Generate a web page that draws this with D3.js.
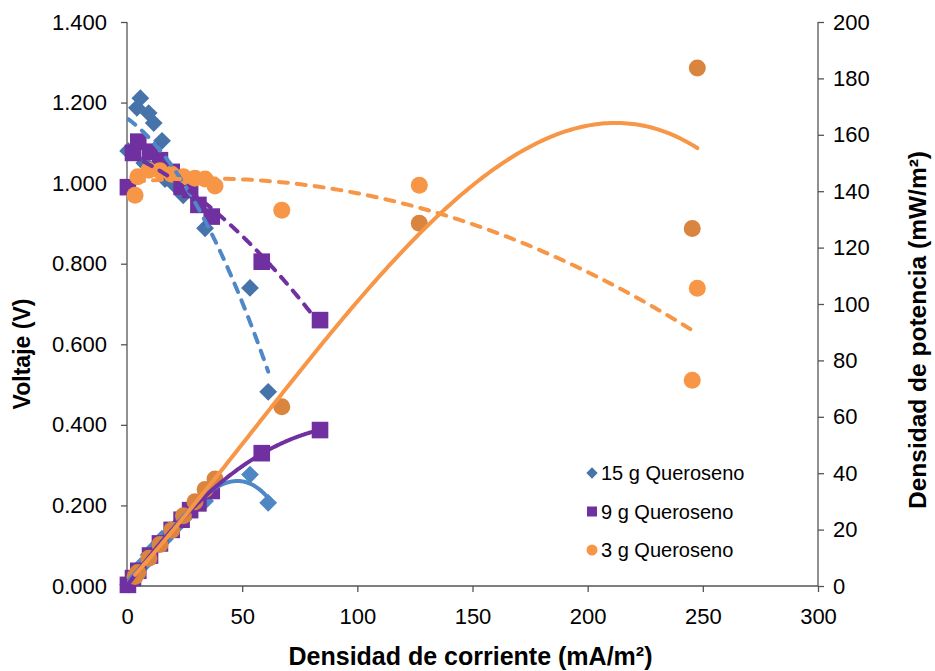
<!DOCTYPE html>
<html>
<head>
<meta charset="utf-8">
<script src="https://cdn.jsdelivr.net/npm/d3@7/dist/d3.min.js"></script>
<style>
  html, body { margin: 0; padding: 0; background: #fff; }
  svg { display: block; font-family: "Liberation Sans", Arial, sans-serif; }
</style>
</head>
<body>
<svg id="chart" width="935" height="671"></svg>
<script>
// Current density (mA/m²), voltage (V) and power density (mW/m²) for each kerosene load
const current15 = [0.5, 4.3, 5.8, 7.5, 9.4, 11.6, 15.2, 16.5, 20.8, 24.4, 33.9, 53.4, 61.3];
const voltage15 = [1.080, 1.187, 1.211, 1.050, 1.174, 1.149, 1.105, 1.010, 0.995, 0.970, 0.888, 0.740, 0.482];
const power15   = [0.5, 5.1, 7.0, 7.9, 11.0, 13.3, 16.8, 16.7, 20.7, 23.7, 30.1, 39.5, 29.5];

const current9 = [0.4, 2.6, 4.9, 10.0, 14.3, 19.4, 23.7, 27.4, 31.0, 36.8, 58.5, 83.8];
const voltage9 = [0.990, 1.075, 1.103, 1.078, 1.057, 1.028, 0.991, 0.983, 0.946, 0.917, 0.805, 0.660];
const power9   = [0.4, 2.8, 5.4, 10.8, 15.1, 19.9, 23.5, 26.9, 29.3, 33.7, 47.1, 55.3];

const current3 = [3.5, 4.7, 9.5, 14.3, 19.4, 24.5, 29.5, 33.9, 38.2, 67.2, 126.9, 245.4, 247.6];
const voltage3 = [0.970, 1.016, 1.032, 1.031, 1.022, 1.016, 1.012, 1.010, 0.993, 0.933, 0.995, 0.511, 0.739];
const power3   = [3.4, 4.8, 9.8, 14.7, 19.8, 24.9, 29.9, 34.2, 37.9, 63.6, 128.6, 126.8, 183.7];

const seriesNames = ["15 g Queroseno", "9 g Queroseno", "3 g Queroseno"];
const xTicks = [0, 50, 100, 150, 200, 250, 300];
const vTicks = [0, 0.2, 0.4, 0.6, 0.8, 1.0, 1.2, 1.4];
const pTicks = [0, 20, 40, 60, 80, 100, 120, 140, 160, 180, 200];

const svg = d3.select("#chart");
const m = { left: 127, right: 818, top: 22, bottom: 586 };

const x = d3.scaleLinear().domain([0, 300]).range([m.left, m.right]);
const yV = d3.scaleLinear().domain([0, 1.4]).range([m.bottom, m.top]);
const yP = d3.scaleLinear().domain([0, 200]).range([m.bottom, m.top]);

const axisColor = "#555";

// Least-squares polynomial trendline
function polyfit(xs, ys, order) {
  const n = order + 1;
  const A = Array.from({ length: n }, () => new Array(n + 1).fill(0));
  for (let k = 0; k < xs.length; k++) {
    for (let i = 0; i < n; i++) {
      for (let j = 0; j < n; j++) A[i][j] += Math.pow(xs[k], i + j);
      A[i][n] += ys[k] * Math.pow(xs[k], i);
    }
  }
  for (let c = 0; c < n; c++) {
    let p = c;
    for (let r = c + 1; r < n; r++) if (Math.abs(A[r][c]) > Math.abs(A[p][c])) p = r;
    [A[c], A[p]] = [A[p], A[c]];
    for (let r = 0; r < n; r++) {
      if (r === c) continue;
      const f = A[r][c] / A[c][c];
      for (let j = c; j <= n; j++) A[r][j] -= f * A[c][j];
    }
  }
  const coef = A.map((row, i) => row[n] / row[i]);
  return v => coef.reduce((s, a, i) => s + a * Math.pow(v, i), 0);
}

function trendPoints(xs, ys, order) {
  const f = polyfit(xs, ys, order);
  const [lo, hi] = d3.extent(xs);
  return d3.range(0, 201).map(i => {
    const v = lo + (hi - lo) * i / 200;
    return [v, f(v)];
  });
}

// clip region for trendlines
svg.append("defs").append("clipPath").attr("id", "plot-clip")
  .append("rect").attr("x", m.left).attr("y", m.top)
  .attr("width", m.right - m.left).attr("height", m.bottom - m.top);

// Axes
const gx = svg.append("g").attr("transform", `translate(0,${m.bottom})`)
  .call(d3.axisBottom(x).tickValues(xTicks).tickFormat(d3.format("d")).tickSize(6).tickPadding(16));
const gl = svg.append("g").attr("transform", `translate(${m.left},0)`)
  .call(d3.axisLeft(yV).tickValues(vTicks).tickFormat(d3.format(".3f")).tickSize(6).tickPadding(14));
const gr = svg.append("g").attr("transform", `translate(${m.right},0)`)
  .call(d3.axisRight(yP).tickValues(pTicks).tickFormat(d3.format("d")).tickSize(6).tickPadding(9));

[gx, gl, gr].forEach(g => {
  g.select(".domain").attr("stroke", axisColor).attr("stroke-width", 1.3);
  g.selectAll(".tick line").attr("stroke", axisColor).attr("stroke-width", 1.3);
  g.selectAll(".tick text").attr("fill", "#000").style("font-size", "22px")
    .style("font-family", "'Liberation Sans', Arial, sans-serif");
});
gr.select(".domain").attr("d", `M0,${m.top}H0V${m.bottom}H0`);
gl.select(".domain").attr("d", `M0,${m.top}H0V${m.bottom}H0`);
gx.select(".domain").attr("d", `M${m.left},0H${m.right}`);

// Axis titles
svg.append("text").attr("x", (m.left + m.right) / 2 - 2).attr("y", 665)
  .attr("text-anchor", "middle").style("font-size", "25px").style("font-weight", "bold")
  .text("Densidad de corriente (mA/m²)");
svg.append("text").attr("transform", "translate(30,354) rotate(-90)")
  .attr("text-anchor", "middle").style("font-size", "23px").style("font-weight", "bold")
  .text("Voltaje (V)");
svg.append("text").attr("transform", "translate(926,330) rotate(-90)")
  .attr("text-anchor", "middle").style("font-size", "24.5px").style("font-weight", "bold")
  .text("Densidad de potencia (mW/m²)");

// Marker shapes
function drawMarkers(g, xs, ys, yScale, shape, color) {
  const pts = xs.map((v, i) => [x(v), yScale(ys[i])]);
  if (shape === "diamond") {
    g.selectAll(null).data(pts).join("rect")
      .attr("x", -6.3).attr("y", -6.3).attr("width", 12.6).attr("height", 12.6)
      .attr("transform", d => `translate(${d[0]},${d[1]}) rotate(45)`).attr("fill", color);
  } else if (shape === "square") {
    g.selectAll(null).data(pts).join("rect")
      .attr("x", d => d[0] - 8.3).attr("y", d => d[1] - 8.3).attr("width", 16.6).attr("height", 16.6)
      .attr("fill", color);
  } else {
    g.selectAll(null).data(pts).join("circle")
      .attr("cx", d => d[0]).attr("cy", d => d[1]).attr("r", 8.5).attr("fill", color);
  }
}

function drawTrend(g, pts, yScale, color, dashed) {
  g.append("path")
    .attr("d", d3.line().x(d => x(d[0])).y(d => yScale(d[1]))(pts))
    .attr("fill", "none").attr("stroke", color).attr("stroke-width", 4)
    .attr("stroke-linecap", "round").attr("stroke-linejoin", "round")
    .attr("stroke-dasharray", dashed ? "9 9" : null);
}

const colBlueV = "#4674AA", colBlueP = "#4F86C4", colBlueLine = "#4F88C8";
const colPurple = "#7030A0";
const colOrangeV = "#F79646", colOrangeP = "#D9853F", colOrangeLine = "#F79646";

// Voltage series (primary axis)
const vMarkers = svg.append("g");
drawMarkers(vMarkers, current15, voltage15, yV, "diamond", colBlueV);
drawMarkers(vMarkers, current9, voltage9, yV, "square", colPurple);
drawMarkers(vMarkers, current3, voltage3, yV, "circle", colOrangeV);

const vTrend = svg.append("g").attr("clip-path", "url(#plot-clip)");
drawTrend(vTrend, trendPoints(current15, voltage15, 2), yV, colBlueLine, true);
drawTrend(vTrend, trendPoints(current9, voltage9, 2), yV, colPurple, true);
drawTrend(vTrend, trendPoints(current3, voltage3, 2), yV, colOrangeLine, true);

// Power series (secondary axis)
const pMarkers = svg.append("g");
drawMarkers(pMarkers, current15, power15, yP, "diamond", colBlueP);
drawMarkers(pMarkers, current9, power9, yP, "square", colPurple);
drawMarkers(pMarkers, current3, power3, yP, "circle", colOrangeP);

const pTrend = svg.append("g").attr("clip-path", "url(#plot-clip)");
drawTrend(pTrend, trendPoints(current15, power15, 3), yP, colBlueLine, false);
drawTrend(pTrend, trendPoints(current9, power9, 3), yP, colPurple, false);
drawTrend(pTrend, trendPoints(current3, power3, 3), yP, colOrangeLine, false);

// Legend
const legend = svg.append("g").attr("transform", "translate(592,473)");
const legendColors = [colBlueV, colPurple, colOrangeV];
seriesNames.forEach((name, i) => {
  const row = legend.append("g").attr("transform", `translate(0,${i * 38.5})`);
  if (i === 0) {
    row.append("rect").attr("x", -4).attr("y", -4).attr("width", 8).attr("height", 8)
      .attr("transform", "rotate(45)").attr("fill", legendColors[i]);
  } else if (i === 1) {
    row.append("rect").attr("x", -5).attr("y", -5).attr("width", 10).attr("height", 10)
      .attr("fill", legendColors[i]);
  } else {
    row.append("circle").attr("r", 5.5).attr("fill", legendColors[i]);
  }
  row.append("text").attr("x", 9).attr("y", 7).style("font-size", "20px").attr("fill", "#000")
    .text(name);
});
</script>
</body>
</html>
